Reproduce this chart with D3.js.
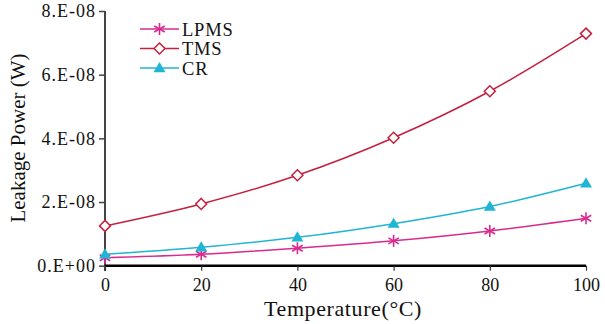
<!DOCTYPE html>
<html><head><meta charset="utf-8">
<script src="https://cdn.jsdelivr.net/npm/d3@7"></script>
<style>body{margin:0;background:#fff}svg{display:block}text{font-family:"Liberation Serif","DejaVu Serif",serif;fill:#111}</style>
</head><body><svg id="c" width="605" height="324"></svg>
<script>
const temps = [0, 20, 40, 60, 80, 100];
const lpms = [0.25e-8, 0.36e-8, 0.55e-8, 0.78e-8, 1.09e-8, 1.49e-8];
const tms  = [1.25e-8, 1.94e-8, 2.84e-8, 4.02e-8, 5.48e-8, 7.29e-8];
const cr   = [0.36e-8, 0.58e-8, 0.89e-8, 1.32e-8, 1.86e-8, 2.59e-8];
const yTicks = [0, 2e-8, 4e-8, 6e-8, 8e-8];
const yTickLabels = ["0.E+00", "2.E-08", "4.E-08", "6.E-08", "8.E-08"];
const seriesNames = ["LPMS", "TMS", "CR"];
const colors = {LPMS: "#d92a8e", TMS: "#c4213f", CR: "#1fb5d3"};

const svg = d3.select("#c");
const x = d3.scaleLinear().domain([0, 100]).range([105, 586]);
const y = d3.scaleLinear().domain([0, 8e-8]).range([265.7, 11]);
const FONT = '"Liberation Serif","DejaVu Serif",serif';

// y axis
const ya = svg.append("g").attr("transform", "translate(105,0)")
  .call(d3.axisLeft(y).tickValues(yTicks).tickFormat((d, i) => yTickLabels[i]).tickSize(6).tickPadding(3))
  .attr("font-family", FONT).attr("font-size", 18);
ya.select(".domain").attr("stroke", "#444").attr("stroke-width", 2).attr("d", "M0,11V271");
ya.selectAll(".tick line").attr("stroke", "#444").attr("stroke-width", 1.5);
ya.selectAll(".tick text").style("font-size", "18px").style("letter-spacing", "1px").attr("fill", "#111");

// x axis
const xa = svg.append("g").attr("transform", "translate(0,265.7)")
  .call(d3.axisBottom(x).tickValues(temps).tickSize(5).tickPadding(8))
  .attr("font-family", FONT).attr("font-size", 18);
xa.select(".domain").attr("stroke", "#000").attr("stroke-width", 2.5).attr("d", "M105,0H586");
xa.selectAll(".tick line").attr("stroke", "#333").attr("stroke-width", 1.2);
xa.selectAll(".tick text").style("font-size", "18px").attr("fill", "#111");

svg.append("text").attr("x", 343).attr("y", 316).attr("text-anchor", "middle")
  .style("font-size", "22px").style("letter-spacing", "0.6px").text("Temperature(°C)");
svg.append("text").attr("transform", "translate(25,138) rotate(-90)").attr("text-anchor", "middle")
  .style("font-size", "21px").text("Leakage Power (W)");

const data = {LPMS: lpms, TMS: tms, CR: cr};
const line = d3.line().x((d, i) => x(temps[i])).y(d => y(d)).curve(d3.curveMonotoneX);

function marker(g, name, cx, cy) {
  const c = colors[name];
  if (name === "LPMS") {
    const r = 6;
    const p = [[0, -r, 0, r], [-r * 0.87, -r * 0.5, r * 0.87, r * 0.5], [-r * 0.87, r * 0.5, r * 0.87, -r * 0.5]];
    p.forEach(q => g.append("line").attr("x1", cx + q[0]).attr("y1", cy + q[1]).attr("x2", cx + q[2]).attr("y2", cy + q[3])
      .attr("stroke", c).attr("stroke-width", 1.6));
  } else if (name === "TMS") {
    const r = 5.5;
    g.append("path").attr("d", `M${cx},${cy - r}L${cx + r},${cy}L${cx},${cy + r}L${cx - r},${cy}Z`)
      .attr("fill", "#fff").attr("stroke", c).attr("stroke-width", 1.5);
  } else {
    const r = 6;
    g.append("path").attr("d", `M${cx},${cy - r}L${cx + r},${cy + r * 0.7}L${cx - r},${cy + r * 0.7}Z`).attr("fill", c);
  }
}

seriesNames.forEach(name => {
  const g = svg.append("g");
  g.append("path").datum(data[name]).attr("d", line).attr("fill", "none")
    .attr("stroke", colors[name]).attr("stroke-width", 1.5);
  data[name].forEach((v, i) => marker(g, name, x(temps[i]), y(v)));
});

// legend
const legY = [29, 48.5, 68];
seriesNames.forEach((name, i) => {
  const g = svg.append("g");
  g.append("line").attr("x1", 140).attr("x2", 179).attr("y1", legY[i]).attr("y2", legY[i])
    .attr("stroke", colors[name]).attr("stroke-width", 1.5);
  marker(g, name, 159.5, legY[i]);
  g.append("text").attr("x", 182).attr("y", legY[i] + 6.5).style("font-size", "18.5px")
    .style("letter-spacing", "0.8px").text(name);
});
</script></body></html>
